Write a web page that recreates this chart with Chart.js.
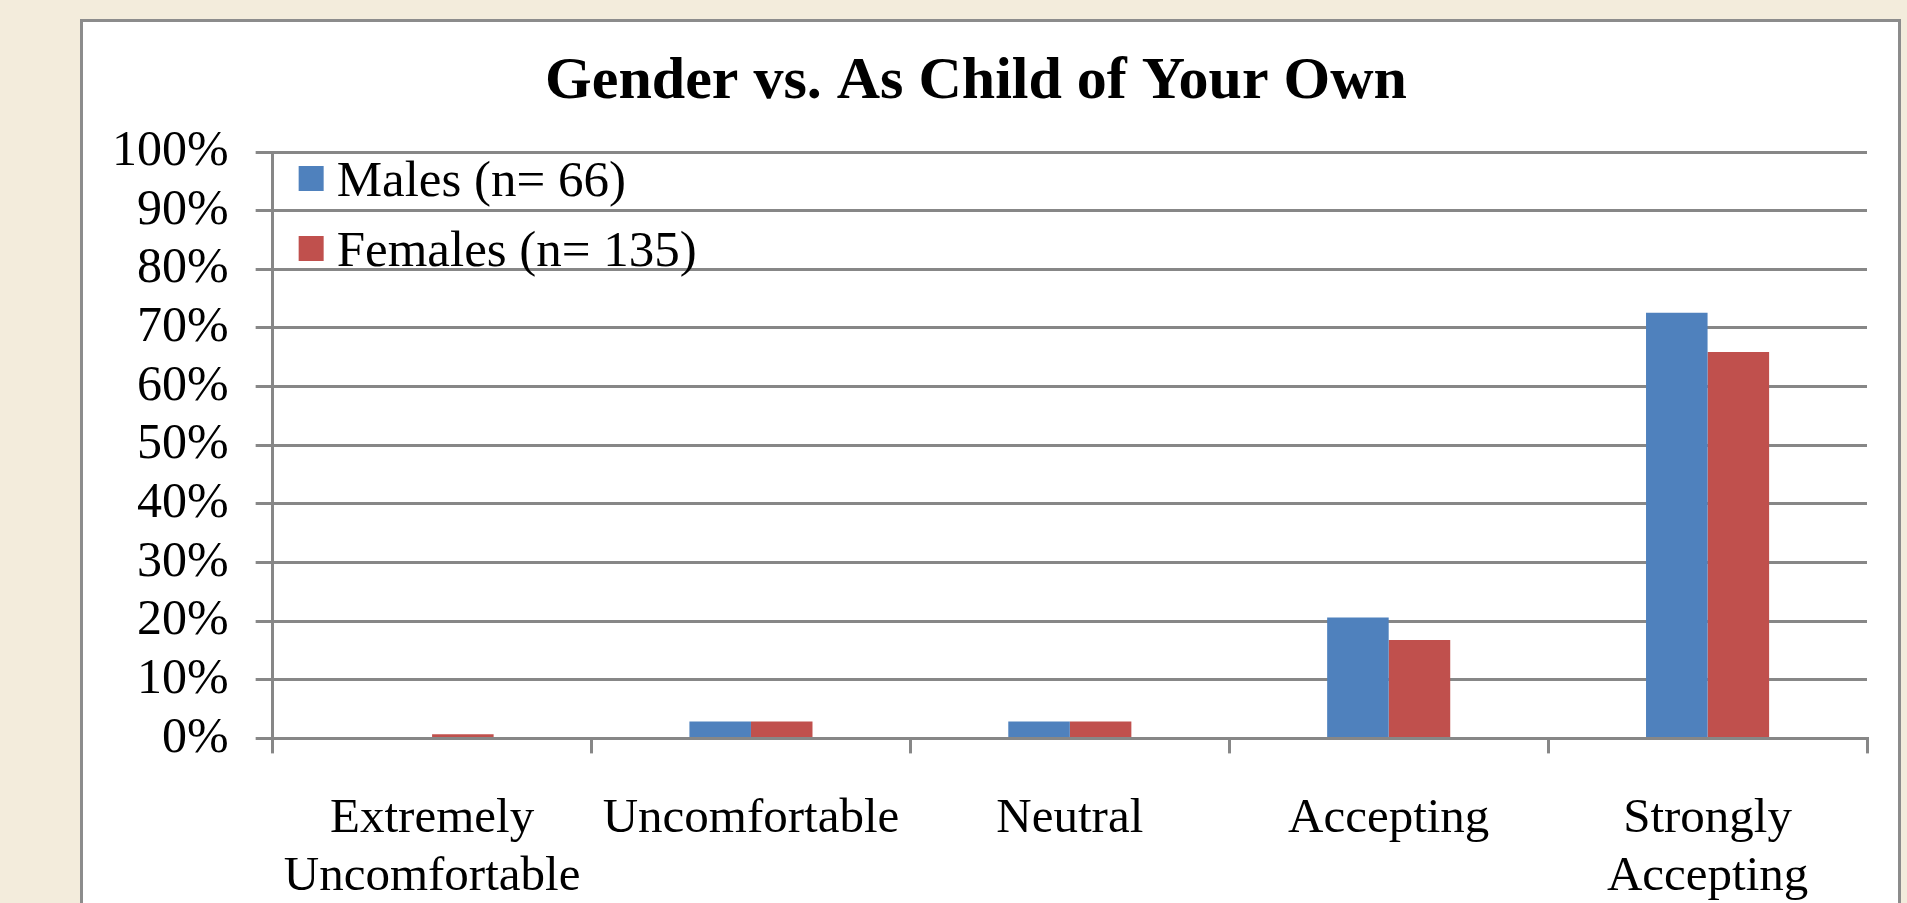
<!DOCTYPE html>
<html>
<head>
<meta charset="utf-8">
<script src="https://cdn.jsdelivr.net/npm/chart.js@4.4.1/dist/chart.umd.min.js"></script>
<style>
	html, body { margin: 0; padding: 0; overflow: hidden; background: #F3ECDC; }
	#marco {
		position: absolute; left: 80px; top: 19px;
		width: 1815px; height: 940px;
		border: 3px solid #8C8C8C; background: #fff;
	}
	#grafica { position: absolute; left: 0; top: 0; }
</style>
</head>
<body>
<div id="marco"><canvas id="grafica" width="1815" height="925"></canvas></div>
<script>
const categorias = [['Extremely', 'Uncomfortable'], 'Uncomfortable', 'Neutral', 'Accepting', ['Strongly', 'Accepting']];
const hombres = [0, 2.9, 2.9, 20.6, 72.6];
const mujeres = [0.7, 2.9, 2.9, 16.8, 65.9];
const etiquetasSeries = ['Males (n= 66)', 'Females (n= 135)'];
const ejeY = { min: 0, max: 100, paso: 10 };

const gris = '#878787';
const serif = "'Liberation Serif', 'Times New Roman', serif";

// leyenda dentro del area del grafico, arriba a la izquierda
const leyendaInterna = {
	id: 'leyendaInterna',
	afterDatasetsDraw(chart) {
		const { ctx, chartArea } = chart;
		ctx.save();
		ctx.font = '51px ' + serif;
		ctx.textBaseline = 'alphabetic';
		ctx.textAlign = 'left';
		chart.data.datasets.forEach(function(ds, i) {
			const y = chartArea.top + 14 + i * 70;
			ctx.fillStyle = ds.backgroundColor;
			ctx.fillRect(chartArea.left + 26, y, 25, 25);
			ctx.fillStyle = '#000';
			ctx.fillText(ds.label, chartArea.left + 64, y + 30);
		});
		ctx.restore();
	}
};

new Chart(document.getElementById('grafica'), {
	type: 'bar',
	data: {
		labels: categorias,
		datasets: [
			{ label: etiquetasSeries[0], data: hombres, backgroundColor: '#4F81BD' },
			{ label: etiquetasSeries[1], data: mujeres, backgroundColor: '#C0504D' }
		]
	},
	options: {
		responsive: false,
		animation: false,
		events: [],
		layout: { padding: { left: 2, right: 31, top: 0, bottom: 4 } },
		datasets: { bar: { barPercentage: 1, categoryPercentage: 0.386 } },
		plugins: {
			legend: { display: false },
			tooltip: { enabled: false },
			title: {
				display: true,
				text: 'Gender vs. As Child of Your Own',
				color: '#000',
				font: { family: serif, size: 60, weight: 'bold' },
				padding: { top: 24, bottom: 34 }
			}
		},
		scales: {
			x: {
				grid: { drawOnChartArea: false, drawTicks: true, tickLength: 15, color: gris, lineWidth: 3 },
				border: { display: true, color: gris, width: 3 },
				ticks: {
					color: '#000', font: { family: serif, size: 49 },
					padding: 36, maxRotation: 0, autoSkip: false
				}
			},
			y: {
				min: ejeY.min, max: ejeY.max,
				grid: { color: gris, lineWidth: 3, tickLength: 17 },
				border: { display: true, color: gris, width: 3 },
				ticks: {
					stepSize: ejeY.paso, color: '#000', padding: 27, autoSkip: false,
					font: { family: serif, size: 50 },
					callback: function(v) { return v + '%'; }
				}
			}
		}
	},
	plugins: [leyendaInterna]
});
</script>
</body>
</html>
